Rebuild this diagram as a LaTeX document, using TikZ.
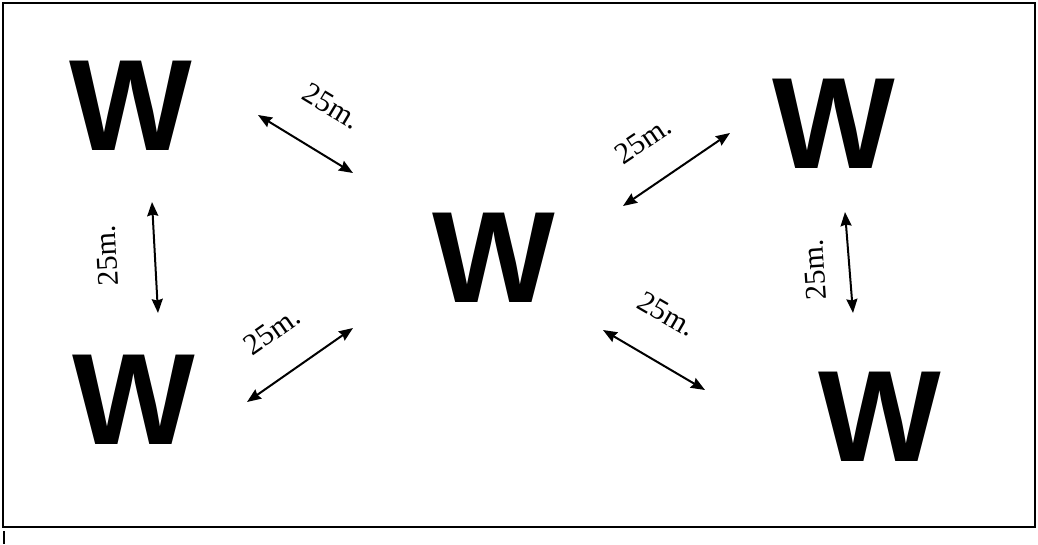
\documentclass[tikz,border=0pt]{standalone}
\usepackage{fontspec}
\setmainfont{Liberation Serif}
\newfontfamily\wellfont{Liberation Sans}
\usetikzlibrary{arrows.meta}
\tikzstyle{well} = [font=\wellfont\bfseries\fontsize{130}{130}\selectfont, 
inner sep=0pt]
\tikzstyle{dist} = [font=\fontsize{30}{30}\selectfont, 
inner sep=0pt]
\tikzstyle{arrow} = [line width=2pt, 
{Stealth[length=14pt,width=11pt,inset=1.5pt]}-{Stealth[length=14pt,width=11pt,inset=1.5pt]}]

\begin{document}
\begin{tikzpicture}[x=1pt, y=-1pt]
        \useasboundingbox (0,0) rectangle (1038,544);
        \draw [line width=2.2pt] (3,3) rectangle (1035,527);
        \draw [line width=1.5pt] (4,531) -- (4,544);

        \node (w_tl) [well] at (131,106) {W};
        \node (w_bl) [well] at (134,400) {W};
        \node (w_mid) [well] at (494,258) {W};
        \node (w_tr) [well] at (834,124) {W};
        \node (w_br) [well] at (880,417) {W};

        \coordinate (tl_a) at (258,115);
        \coordinate (tl_b) at (353,173);
        \coordinate (left_a) at (152,202);
        \coordinate (left_b) at (158,313);
        \coordinate (bl_a) at (247,402);
        \coordinate (bl_b) at (353,328);
        \coordinate (tr_a) at (623,206);
        \coordinate (tr_b) at (730,133);
        \coordinate (br_a) at (603,330);
        \coordinate (br_b) at (705,390);
        \coordinate (right_a) at (845,212);
        \coordinate (right_b) at (853,313);

        \draw [arrow] (tl_a) -- (tl_b);
        \draw [arrow] (left_a) -- (left_b);
        \draw [arrow] (bl_a) -- (bl_b);
        \draw [arrow] (tr_a) -- (tr_b);
        \draw [arrow] (br_a) -- (br_b);
        \draw [arrow] (right_a) -- (right_b);

        \node (d_tl) [dist, rotate=-31] at (332,106) {25m.};
        \node (d_left) [dist, rotate=93] at (107,256) {25m.};
        \node (d_bl) [dist, rotate=35] at (272,331) {25m.};
        \node (d_tr) [dist, rotate=34] at (643,140) {25m.};
        \node (d_br) [dist, rotate=-30] at (667,314) {25m.};
        \node (d_right) [dist, rotate=94] at (815,270) {25m.};

    \end{tikzpicture}
\end{document}
